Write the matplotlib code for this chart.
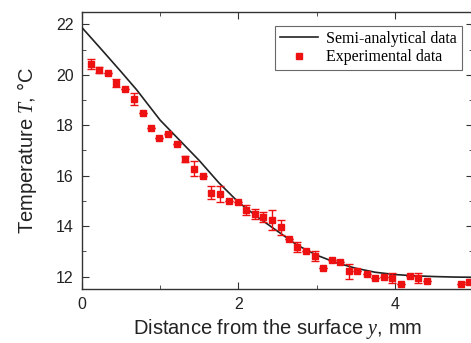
import numpy as np
import matplotlib.pyplot as plt
from matplotlib.ticker import MultipleLocator
from matplotlib.lines import Line2D

# semi-analytical curve
y_model = [0.0, 0.25, 0.5, 0.7, 0.75, 1.0, 1.25, 1.5, 1.75, 2.0, 2.25, 2.5,
           2.75, 3.0, 3.25, 3.5, 3.75, 4.0, 4.25, 4.5, 4.75, 5.0]
T_model = [21.87, 21.0, 20.12, 19.4, 19.2, 18.2, 17.4, 16.6, 15.72, 14.95, 14.35, 13.8,
           13.25, 12.85, 12.55, 12.33, 12.17, 12.08, 12.03, 12.0, 11.98, 11.97]

# experimental data
y_exp = [0.115, 0.22, 0.336, 0.44, 0.55, 0.664, 0.775, 0.885, 0.99, 1.10,
         1.21, 1.32, 1.43, 1.545, 1.656, 1.77, 1.877, 1.99, 2.10, 2.21,
         2.32, 2.43, 2.54, 2.65, 2.755, 2.865, 2.976, 3.08, 3.20, 3.30,
         3.41, 3.52, 3.64, 3.75, 3.86, 3.97, 4.08, 4.19, 4.30, 4.41,
         4.85, 4.95]
T_exp = [20.42, 20.2, 20.07, 19.67, 19.43, 19.04, 18.47, 17.9, 17.5, 17.64,
         17.27, 16.65, 16.27, 16.0, 15.33, 15.27, 15.0, 14.97, 14.63, 14.47,
         14.36, 14.24, 13.96, 13.47, 13.17, 13.03, 12.8, 12.33, 12.67, 12.56,
         12.2, 12.2, 12.1, 11.96, 12.0, 11.93, 11.69, 12.04, 11.93, 11.84,
         11.72, 11.8]
T_err = [0.2, 0.12, 0.0, 0.15, 0.0, 0.25, 0.0, 0.0, 0.0, 0.0,
         0.0, 0.12, 0.3, 0.0, 0.25, 0.3, 0.0, 0.0, 0.2, 0.2,
         0.2, 0.38, 0.3, 0.0, 0.2, 0.0, 0.2, 0.0, 0.0, 0.0,
         0.3, 0.0, 0.0, 0.0, 0.0, 0.2, 0.0, 0.0, 0.2, 0.0,
         0.0, 0.0]

sans = 'Liberation Sans'
serif = 'Liberation Serif'
red = '#ee1111'

plt.rcParams['mathtext.fontset'] = 'custom'
plt.rcParams['mathtext.it'] = 'Liberation Serif:italic'
plt.rcParams['mathtext.rm'] = 'Liberation Sans'

fig = plt.figure(figsize=(4.71, 3.43), dpi=100)
ax = fig.add_axes([0.174, 0.157, 0.83, 0.809])

ax.plot(y_model, T_model, color='#222222', linewidth=1.2, zorder=3)
ax.errorbar(y_exp, T_exp, yerr=T_err, fmt='s', color=red, markersize=5,
            ecolor=red, elinewidth=1.0, capsize=3, capthick=1.0, zorder=4)

ax.set_xlim(0, 5)
ax.set_ylim(11.5, 22.5)
ax.xaxis.set_major_locator(MultipleLocator(2))
ax.xaxis.set_minor_locator(MultipleLocator(1))
ax.yaxis.set_major_locator(MultipleLocator(2))
ax.yaxis.set_minor_locator(MultipleLocator(1))
ax.tick_params(which='both', direction='in', top=True, right=True, color='#333333')
ax.tick_params(which='major', length=5, labelsize=11.5, pad=6)
ax.tick_params(which='minor', length=3)
for lab in ax.get_xticklabels() + ax.get_yticklabels():
    lab.set_fontfamily(sans)
    lab.set_color('#222222')
for s in ax.spines.values():
    s.set_linewidth(1.0)
    s.set_color('#333333')

ax.set_xlabel(r'Distance from the surface $y$, mm', fontfamily=sans, fontsize=14.5,
              labelpad=3, color='#222222')
ax.set_ylabel(r'Temperature $T$, °C', fontfamily=sans, fontsize=14.5,
              labelpad=12, color='#222222')

handles = [Line2D([], [], color='#222222', linewidth=1.2),
           Line2D([], [], linestyle='none', marker='s', color=red, markersize=5)]
labels = ['Semi-analytical data', 'Experimental data']
leg = ax.legend(handles, labels, loc='upper right', bbox_to_anchor=(0.972, 0.948),
                borderaxespad=0, prop={'family': serif, 'size': 11.5}, frameon=True,
                fancybox=False, edgecolor='#444444', handlelength=2.4, handletextpad=0.5,
                borderpad=0.3, labelspacing=0.15)
leg.get_frame().set_linewidth(0.8)

fig.savefig('out.png', dpi=100)
